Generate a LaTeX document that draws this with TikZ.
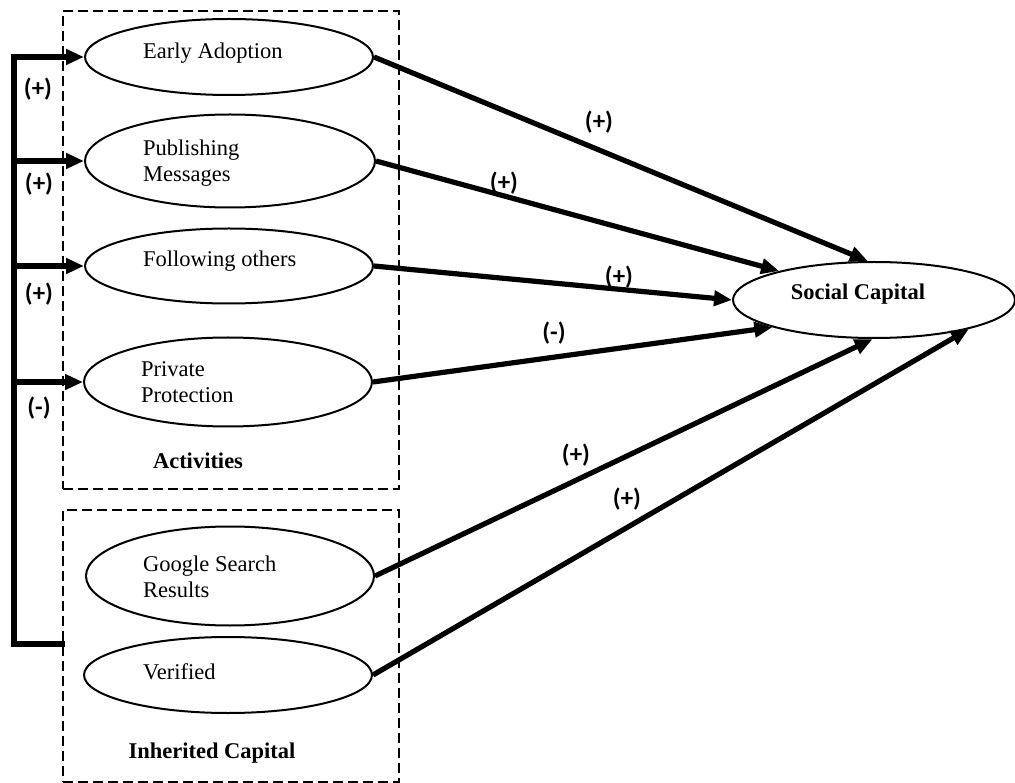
\documentclass[tikz,border=0pt]{standalone}
\usepackage{fontspec}
\setmainfont{Liberation Serif}
\newfontfamily\signfont{Carlito}
\usetikzlibrary{shapes.geometric,arrows.meta}
\begin{document}
\begin{tikzpicture}[x=1pt,y=-1pt,
  oval/.style={draw,ellipse,line width=2pt,minimum width=288pt,minimum height=76pt,inner sep=0pt},
  grp/.style={draw,dash pattern=on 10pt off 5pt,line width=1.8pt},
  txt/.style={anchor=west,align=left,inner sep=0pt,font=\fontsize{22.5}{26}\selectfont},
  ttl/.style={inner sep=0pt,font=\fontsize{22.5}{26}\selectfont\bfseries},
  sign/.style={inner sep=0pt,font=\fontsize{25}{28}\selectfont\signfont\bfseries},
  link/.style={line width=5.2pt,-{Triangle[length=18pt,width=15pt]}},
  bar/.style={line width=5.5pt}]
\useasboundingbox (0,0) rectangle (1015,783);
% group boxes
\node[grp,minimum width=336pt,minimum height=478pt,anchor=north west] (act) at (62,10) {};
\node[grp,minimum width=336pt,minimum height=272pt,anchor=north west] (inh) at (62,509) {};
\node[ttl] (actt) at (198,461) {Activities};
\node[ttl] (inht) at (212,753) {Inherited Capital};
% ellipses
\node[oval] (ea) at (229,57) {};
\node[oval,minimum width=290pt,minimum height=93pt] (pm) at (230,161) {};
\node[oval,minimum height=75pt] (fo) at (229,266) {};
\node[oval,minimum height=89pt] (pp) at (228,382) {};
\node[oval,minimum height=99pt] (gs) at (230,576) {};
\node[oval,minimum height=76pt] (ve) at (228,675) {};
\node[oval,minimum width=282pt,minimum height=76pt] (sc) at (874,300) {};
% ellipse texts
\node[txt] (eat) at (143,53) {Early Adoption};
\node[txt] (pmt) at (143,163) {Publishing\\Messages};
\node[txt] (fot) at (143,261) {Following others};
\node[txt] (ppt) at (141,382) {Private\\Protection};
\node[txt] (gst) at (143,577) {Google Search\\Results};
\node[txt] (vet) at (143,672) {Verified};
\node[ttl] (sct) at (858,294) {Social Capital};
% left feedback bar
\coordinate (b1) at (14,57);
\coordinate (b2) at (14,161);
\coordinate (b3) at (14,266);
\coordinate (b4) at (14,382);
\coordinate (b5) at (14,644);
\coordinate (b6) at (62,644);
\draw[bar,line cap=rect] (b1) -- (b5) -- (b6);
\draw[link] (b1) -- (ea.west);
\draw[link] (b2) -- (pm.west);
\draw[link] (b3) -- (fo.west);
\draw[link] (b4) -- (pp.west);
\node[sign] (s1) at (38,89) {(+)};
\node[sign] (s2) at (39,184) {(+)};
\node[sign] (s3) at (39,294) {(+)};
\node[sign] (s4) at (39,408) {(-)};
% links to social capital
\draw[link] (ea.east) -- (sc.99);
\draw[link] (pm.east) -- (sc.163);
\draw[link] (fo.east) -- (sc.west);
\draw[link] (pp.east) -- (sc.195);
\draw[link] (gs.east) -- (sc.268);
\draw[link] (ve.east) -- (sc.343);
\node[sign] (r1) at (599,122) {(+)};
\node[sign] (r2) at (504,183) {(+)};
\node[sign] (r3) at (619,277) {(+)};
\node[sign] (r4) at (554,333) {(-)};
\node[sign] (r5) at (576,455) {(+)};
\node[sign] (r6) at (627,499) {(+)};
\end{tikzpicture}
\end{document}
